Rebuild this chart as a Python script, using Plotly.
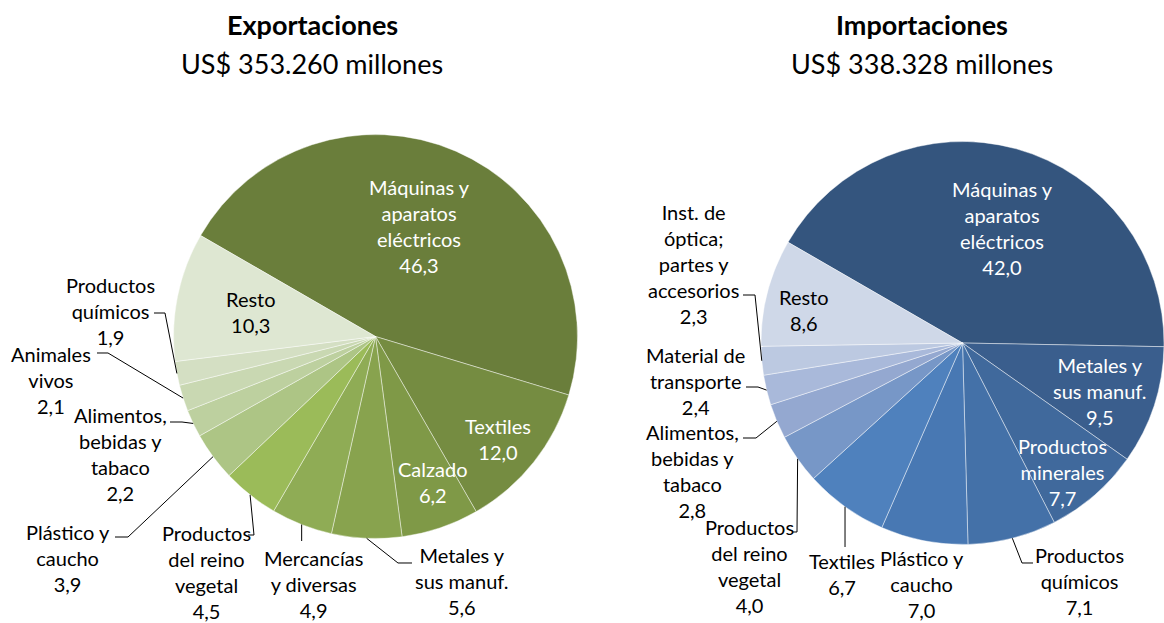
import math
import plotly.graph_objects as go

# ---------------- data ----------------
exp_categories = ["Máquinas y\naparatos\neléctricos", "Textiles", "Calzado", "Metales y\nsus manuf.",
                  "Mercancías\ny diversas", "Productos\ndel reino\nvegetal", "Plástico y\ncaucho",
                  "Alimentos,\nbebidas y\ntabaco", "Animales\nvivos", "Productos\nquímicos", "Resto"]
exp_values = [46.3, 12.0, 6.2, 5.6, 4.9, 4.5, 3.9, 2.2, 2.1, 1.9, 10.3]

imp_categories = ["Máquinas y\naparatos\neléctricos", "Metales y\nsus manuf.", "Productos\nminerales",
                  "Productos\nquímicos", "Plástico y\ncaucho", "Textiles", "Productos\ndel reino\nvegetal",
                  "Alimentos,\nbebidas y\ntabaco", "Material de\ntransporte",
                  "Inst. de\nóptica;\npartes y\naccesorios", "Resto"]
imp_values = [42.0, 9.5, 7.7, 7.1, 7.0, 6.7, 4.0, 2.8, 2.4, 2.3, 8.6]

exp_title = "Exportaciones"
exp_subtitle = "US$ 353.260 millones"
imp_title = "Importaciones"
imp_subtitle = "US$ 338.328 millones"

# ---------------- styling / layout ----------------
W, H = 1164, 623
FONT = "Lato, 'Open Sans', sans-serif"
LABEL_SIZE = 20

exp_colors = ["#6a7e3b", "#758c41", "#7f9947", "#88a34e", "#8fac55", "#9bbb59",
              "#adc585", "#bdd09f", "#c9d8b2", "#d4dfc3", "#dee7d2"]
imp_colors = ["#34557e", "#3a5e8d", "#40699c", "#4471a8", "#4878b3", "#4f81bd",
              "#7797c7", "#94a8d0", "#a9b9da", "#bcc9e1", "#cfd8e8"]

# pie geometry (pixels)
exp_geom = dict(cx=375.5, cy=336.5, r=202.0)
imp_geom = dict(cx=962.5, cy=343.0, r=201.5)
ROTATION = -60

# label placement: (center x, center y, text colour, leader waypoints)
exp_label_pos = [
    (419, 226, "white", None),
    (498, 439, "white", None),
    (433, 482, "white", None),
    (462, 581, "black", [(398, 563), (412, 563)]),
    (313, 584, "black", [("sx", 541)]),
    (206, 572, "black", [(254, 535), (248, 535)]),
    (68, 558, "black", [(128, 537), (115, 537)]),
    (120, 454, "black", [(182, 422), (170, 422)]),
    (51, 380, "black", [(108, 353), (97, 353)]),
    (110, 311, "black", [(165, 313), (154, 313)]),
    (251, 312, "black", None),
]
imp_label_pos = [
    (1002, 228, "white", None),
    (1100, 391, "white", None),
    (1062, 472, "white", None),
    (1079, 581, "black", [(1022, 563), (1033, 563)]),
    (922, 584, "black", None),
    (842, 574, "black", [("sx", 547)]),
    (749, 566, "black", [(797, 532), (793, 532)]),
    (692, 471, "black", [(756, 438), (743, 438)]),
    (695, 381, "black", [(758, 387), (746, 387)]),
    (693, 264, "black", [(755, 295), (743, 295)]),
    (804, 310, "black", None),
]


def px(x):
    return x / W


def py(y):
    return 1 - y / H


def domain(g):
    return dict(x=[px(g["cx"] - g["r"]), min(1.0, px(g["cx"] + g["r"]))],
                y=[py(g["cy"] + g["r"]), py(g["cy"] - g["r"])])


fig = go.Figure()
for cats, vals, cols, g in [(exp_categories, exp_values, exp_colors, exp_geom),
                            (imp_categories, imp_values, imp_colors, imp_geom)]:
    fig.add_trace(go.Pie(
        labels=[c.replace("\n", " ") for c in cats], values=vals, sort=False,
        direction="clockwise", rotation=ROTATION, textinfo="none", hoverinfo="label+value",
        marker=dict(colors=cols, line=dict(color="rgba(255,255,255,0.55)", width=0.8)),
        domain=domain(g), showlegend=False))

annotations = []
shapes = []


def fmt(v):
    return f"{v:.1f}".replace(".", ",")


for cats, vals, g, pos in [(exp_categories, exp_values, exp_geom, exp_label_pos),
                           (imp_categories, imp_values, imp_geom, imp_label_pos)]:
    total = sum(vals)
    cum = 0.0
    for cat, v, (lx, ly, col, leader) in zip(cats, vals, pos):
        mid = ROTATION + (cum + v / 2) / total * 360
        cum += v
        text = cat.replace("\n", "<br>") + "<br>" + fmt(v)
        annotations.append(dict(x=px(lx), y=py(ly), xref="paper", yref="paper", text=text,
                                showarrow=False, xanchor="center", yanchor="middle", align="center",
                                font=dict(family=FONT, size=LABEL_SIZE, color=col)))
        if leader:
            a = math.radians(mid)
            sx = g["cx"] + g["r"] * math.sin(a)
            sy = g["cy"] - g["r"] * math.cos(a)
            pts = [(sx, sy)] + [((sx if p[0] == "sx" else p[0]), p[1]) for p in leader]
            path = "M " + " L ".join(f"{px(x):.5f},{py(y):.5f}" for x, y in pts)
            shapes.append(dict(type="path", path=path, xref="paper", yref="paper",
                               line=dict(color="black", width=1)))

for tx, title, sub in [(312, exp_title, exp_subtitle), (922, imp_title, imp_subtitle)]:
    annotations.append(dict(x=px(tx), y=py(24), xref="paper", yref="paper", text=f"<b>{title}</b>",
                            showarrow=False, xanchor="center", yanchor="middle",
                            font=dict(family=FONT, size=27, color="black")))
    annotations.append(dict(x=px(tx), y=py(63), xref="paper", yref="paper", text=sub,
                            showarrow=False, xanchor="center", yanchor="middle",
                            font=dict(family=FONT, size=27, color="black")))

fig.update_layout(width=W, height=H, margin=dict(l=0, r=0, t=0, b=0),
                  paper_bgcolor="white", plot_bgcolor="white",
                  annotations=annotations, shapes=shapes, font=dict(family=FONT))

fig.write_html("out.html", config={"displayModeBar": False},
               post_script="document.body.style.margin='0';document.body.style.overflow='hidden';")
